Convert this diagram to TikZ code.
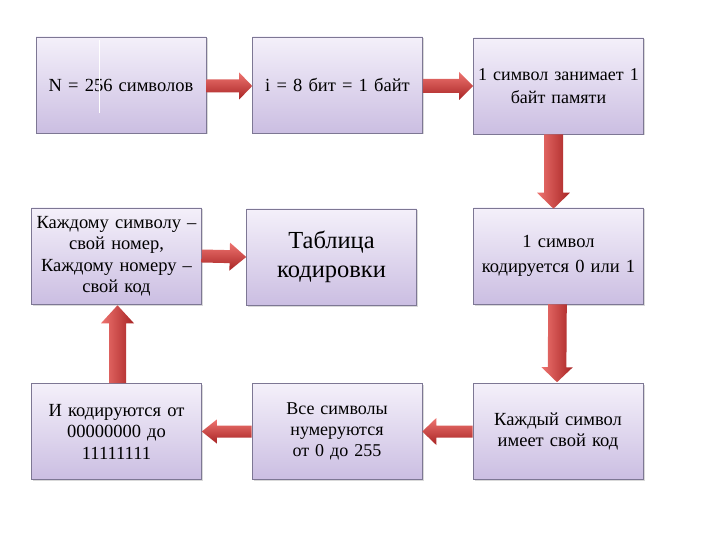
\documentclass[tikz,border=0pt]{standalone}
\usepackage{fontspec}
\setmainfont{Liberation Serif}
\usetikzlibrary{calc,shadows}
\definecolor{boxtop}{HTML}{F4F0FA}
\definecolor{boxbot}{HTML}{CBBEE2}
\definecolor{boxline}{HTML}{7D7794}
\definecolor{arLight}{HTML}{EE7470}
\definecolor{arMid}{HTML}{D53A36}
\definecolor{arDark}{HTML}{A82424}
\newcommand\blockarrow[6]{%
  \coordinate (hb) at ($(#3)!#6!(#2)$);
  \path[#1] ($(#2)!#4!90:(#3)$) -- ($(hb)!#4!90:(#3)$) -- ($(hb)!#5!90:(#3)$) -- (#3)
    -- ($(hb)!#5!-90:(#3)$) -- ($(hb)!#4!-90:(#3)$) -- ($(#2)!#4!-90:(#3)$) -- cycle;
}
\tikzset{
  infobox/.style={rectangle, draw=boxline, line width=0.6pt, top color=boxtop, bottom color=boxbot,
    minimum width=170pt, minimum height=96pt, text width=164pt, align=center, inner sep=2pt,
    drop shadow={fill=black, opacity=0.15, shadow xshift=1.5pt, shadow yshift=-1.5pt},
    font=\fontsize{18.5}{21.5}\selectfont},
  harrow/.style={top color=arLight, middle color=arMid, bottom color=arDark},
  varrow/.style={left color=arLight, middle color=arMid, right color=arDark},
}
\begin{document}
\begin{tikzpicture}[x=1pt,y=-1pt]
\useasboundingbox[fill=white] (0,0) rectangle (720,540);
% row 1
\node[infobox] (b1) at (121,85) {N = 256 символов};
\node[infobox] (b2) at (337.5,85) {i = 8 бит = 1 байт};
\node[infobox, font=\fontsize{18}{23}\selectfont] (b3) at (558.5,86) {1 символ занимает 1\\ байт памяти};
% row 2
\node[infobox] (c1) at (116.5,256) {Каждому символу –\\ свой номер,\\ Каждому номеру –\\ свой код};
\node[infobox, font=\fontsize{24.5}{29}\selectfont] (c2) at (331.5,257) {Таблица\\ кодировки};
\node[infobox, font=\fontsize{18.5}{25}\selectfont] (c3) at (558.5,256) {1 символ\\ кодируется 0 или 1};
% row 3
\node[infobox] (d1) at (116.5,431.5) {И кодируются от\\ 00000000 до\\ 11111111};
\node[infobox, font=\fontsize{18}{21}\selectfont] (d2) at (337,431.5) {Все символы\\ нумеруются\\ от 0 до 255};
\node[infobox] (d3) at (558,431.5) {Каждый символ\\ имеет свой код};
% artifact line in first box
\draw[white, line width=0.9pt] ($(b1.north west)+(64,3)$) -- ++(0,73);
% arrow end points
\coordinate (s1) at ($(b1.east)+(0,1)$);
\coordinate (e1) at ($(b2.west)+(0,1)$);
\coordinate (s2) at ($(b2.east)+(0,1)$);
\coordinate (e2) at ($(b3.west)+(0,0)$);
\coordinate (s3) at ($(b3.south)+(-5,0)$);
\coordinate (e3) at ($(c3.north)+(-5,1)$);
\coordinate (s4) at (c1.east);
\coordinate (e4) at (c2.west);
\coordinate (s5) at ($(c3.south)+(-1,0)$);
\coordinate (e5) at ($(d3.north)+(-1,-1)$);
\coordinate (s6) at ($(d3.west)+(0,0)$);
\coordinate (e6) at ($(d2.east)+(0,0)$);
\coordinate (s7) at ($(d2.west)+(0,0)$);
\coordinate (e7) at ($(d1.east)+(0,0)$);
\coordinate (s8) at ($(d1.north)+(1,0)$);
\coordinate (e8) at ($(c1.south)+(1,1)$);
% arrows
\blockarrow{harrow}{s1}{e1}{6.5pt}{13.5pt}{13pt}
\blockarrow{harrow}{s2}{e2}{7pt}{14pt}{14pt}
\blockarrow{varrow}{s3}{e3}{9.5pt}{16.5pt}{16pt}
\blockarrow{harrow}{s4}{e4}{6.5pt}{14pt}{16.5pt}
\blockarrow{varrow}{s5}{e5}{9.3pt}{15.7pt}{15pt}
\blockarrow{harrow}{s6}{e6}{6pt}{13.5pt}{14pt}
\blockarrow{harrow}{s7}{e7}{6pt}{12pt}{15pt}
\blockarrow{varrow}{s8}{e8}{8.5pt}{16.5pt}{18pt}
\end{tikzpicture}
\end{document}
